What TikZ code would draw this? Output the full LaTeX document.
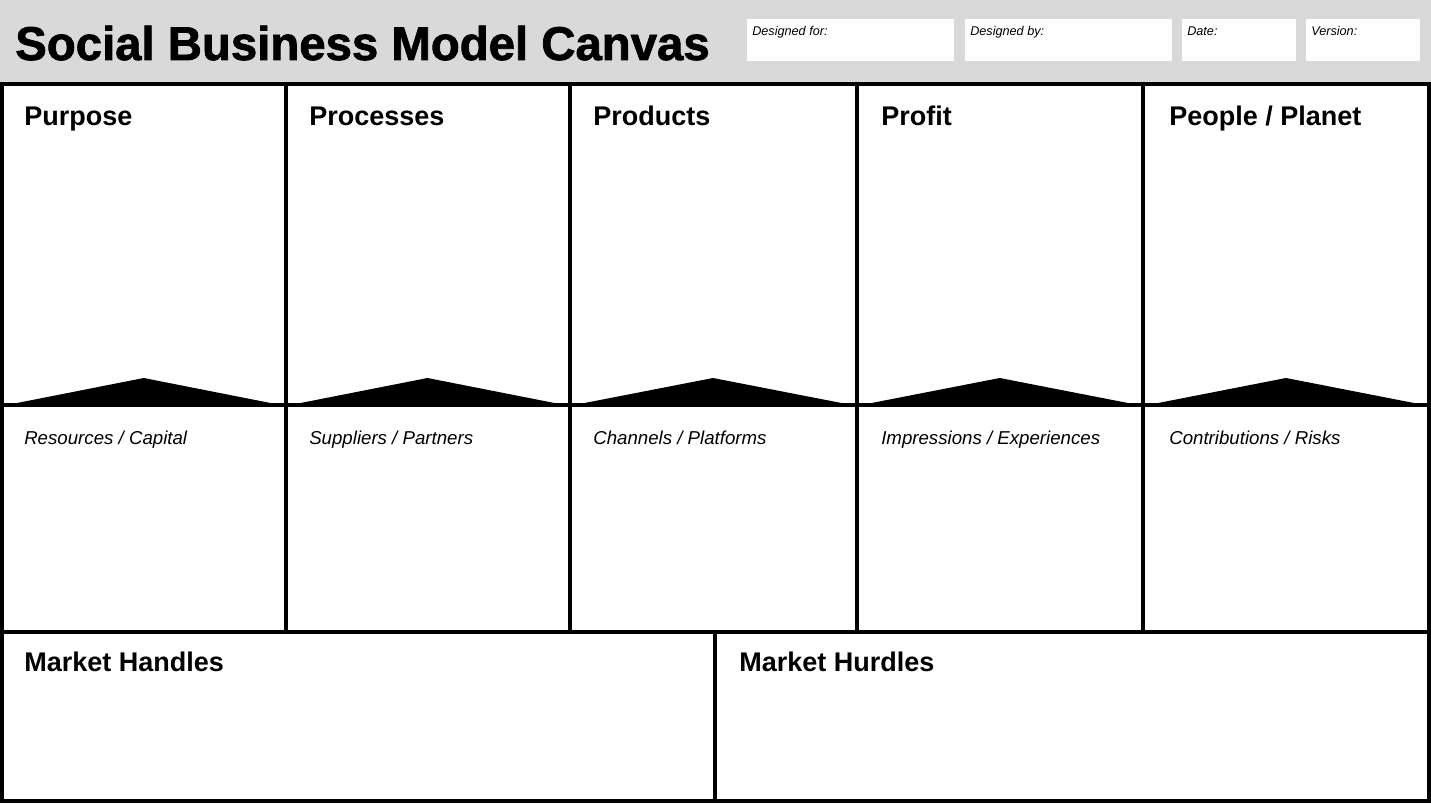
\documentclass[tikz,border=0pt]{standalone}
\usepackage{fontspec}
\setmainfont{Liberation Sans}
\newfontfamily\heavyfont{Liberation Sans Bold}[FakeBold=1.6]
\definecolor{headgray}{HTML}{D9D9D9}

\begin{document}
\begin{tikzpicture}[x=0.75pt,y=-0.75pt,
  canvastitle/.style={anchor=base west,inner sep=0pt,font=\fontsize{35.5}{40}\heavyfont},
  blocktitle/.style={anchor=base west,inner sep=0pt,font=\fontsize{20.25}{24}\selectfont\bfseries},
  blocksub/.style={anchor=base west,inner sep=0pt,font=\fontsize{14}{17}\selectfont\itshape},
  infolabel/.style={anchor=base west,inner sep=0pt,font=\fontsize{9.5}{11}\selectfont\itshape},
  gridline/.style={line width=3pt}]
\useasboundingbox (0,0) rectangle (1431,805);

% header
\fill[headgray] (0,0) rectangle (1431,84);
\node[canvastitle] (title) at (15,60) {Social Business Model Canvas};
\foreach \nm/\a/\b/\txt in {for/747/954/Designed for:,by/965/1172/Designed by:,date/1182/1296/Date:,version/1306/1420/Version:}{
  \fill[white] (\a,19) rectangle (\b,61);
  \node[infolabel] (info-\nm) at (\a+5,36) {\txt};
}

% pointers between the two rows
\foreach \l/\r in {2/285.5,285.5/569.5,569.5/856.5,856.5/1143,1143/1429}
  \fill ({\l+10},404) -- ({(\l+\r)/2},378) -- ({\r-10},404) -- cycle;

% grid
\draw[gridline] (0,84) -- (1431,84);
\draw[gridline] (2,84) rectangle (1429,801);
\foreach \x in {285.5,569.5,856.5,1143}
  \draw[gridline] (\x,84) -- (\x,632);
\draw[line width=2.25pt] (2,405) -- (1429,405);
\draw[gridline] (2,632) -- (1429,632);
\draw[gridline] (715,632) -- (715,801);

% block texts
\node[blocktitle] (purpose) at (24,126) {Purpose};
\node[blocktitle] (processes) at (309,126) {Processes};
\node[blocktitle] (products) at (593,126) {Products};
\node[blocktitle] (profit) at (881,126) {Profit};
\node[blocktitle] (people) at (1169,126) {People / Planet};

\node[blocksub] (resources) at (24,445) {Resources / Capital};
\node[blocksub] (suppliers) at (309,445) {Suppliers / Partners};
\node[blocksub] (channels) at (593,445) {Channels / Platforms};
\node[blocksub] (impressions) at (881,445) {Impressions / Experiences};
\node[blocksub] (contributions) at (1169,445) {Contributions / Risks};

\node[blocktitle] (handles) at (24,671) {Market Handles};
\node[blocktitle] (hurdles) at (739,671) {Market Hurdles};
\end{tikzpicture}
\end{document}
